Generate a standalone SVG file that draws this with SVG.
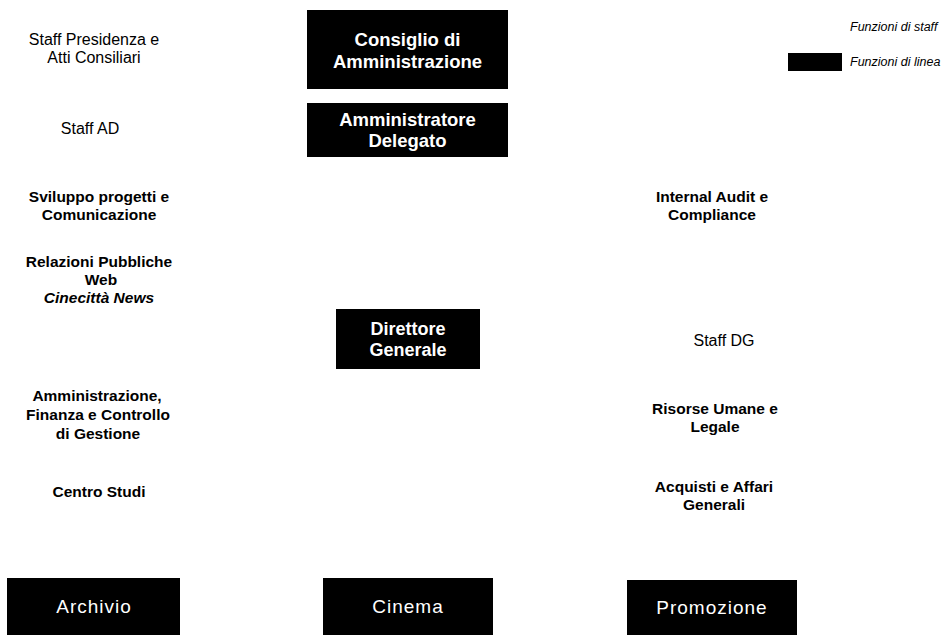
<svg xmlns="http://www.w3.org/2000/svg" width="947" height="635" viewBox="0 0 947 635">
<style>
.bg{fill:#ffffff}
.line{fill:#000000}
.wt{fill:#ffffff;font-family:"Liberation Sans",Arial,sans-serif;font-weight:bold;font-size:18.5px;text-anchor:middle}
.wr{fill:#ffffff;font-family:"Liberation Sans",Arial,sans-serif;font-size:19px;text-anchor:middle;letter-spacing:1px}
.st{fill:#000000;font-family:"Liberation Sans",Arial,sans-serif;font-size:16px;text-anchor:middle}
.sb{fill:#000000;font-family:"Liberation Sans",Arial,sans-serif;font-weight:bold;font-size:15.5px;text-anchor:middle}
.lg{fill:#000000;font-family:"Liberation Sans",Arial,sans-serif;font-style:italic;font-size:12.5px}
</style>
<rect class="bg" x="0" y="0" width="947" height="635"/>
<g id="connectors"></g>
<g id="legend">
<text class="lg" x="850" y="31">Funzioni di staff</text>
<rect class="line" x="788" y="53" width="54" height="18"/>
<text class="lg" x="850" y="66">Funzioni di linea</text>
</g>
<g id="consiglio">
<rect class="line" x="307" y="10" width="201" height="79"/>
<text class="wt" x="407.5" y="46">Consiglio di</text>
<text class="wt" x="407.5" y="68">Amministrazione</text>
</g>
<g id="ad">
<rect class="line" x="307" y="103" width="201" height="54"/>
<text class="wt" x="407.5" y="126">Amministratore</text>
<text class="wt" x="407.5" y="147">Delegato</text>
</g>
<g id="dg">
<rect class="line" x="336" y="309" width="144" height="60"/>
<text class="wt" x="408" y="335" style="font-size:18px">Direttore</text>
<text class="wt" x="408" y="356" style="font-size:18px">Generale</text>
</g>
<g id="archivio">
<rect class="line" x="7" y="578" width="173" height="57"/>
<text class="wr" x="94" y="613">Archivio</text>
</g>
<g id="cinema">
<rect class="line" x="323" y="578" width="170" height="57"/>
<text class="wr" x="408" y="613">Cinema</text>
</g>
<g id="promozione">
<rect class="line" x="627" y="580" width="170" height="55"/>
<text class="wr" x="712" y="614">Promozione</text>
</g>
<g id="staff-presidenza">
<text class="st" x="94" y="45">Staff Presidenza e</text>
<text class="st" x="94" y="63">Atti Consiliari</text>
</g>
<g id="staff-ad">
<text class="st" x="90" y="134">Staff AD</text>
</g>
<g id="sviluppo">
<text class="sb" x="99" y="202">Sviluppo progetti e</text>
<text class="sb" x="99" y="220">Comunicazione</text>
</g>
<g id="relazioni">
<text class="sb" x="99" y="267">Relazioni Pubbliche</text>
<text class="sb" x="101" y="285">Web</text>
<text class="sb" x="99" y="303" font-style="italic">Cinecittà News</text>
</g>
<g id="amministrazione">
<text class="sb" x="97" y="401">Amministrazione,</text>
<text class="sb" x="98" y="420">Finanza e Controllo</text>
<text class="sb" x="98" y="439">di Gestione</text>
</g>
<g id="centro-studi">
<text class="sb" x="99" y="497">Centro Studi</text>
</g>
<g id="internal-audit">
<text class="sb" x="712" y="202">Internal Audit e</text>
<text class="sb" x="712" y="220">Compliance</text>
</g>
<g id="staff-dg">
<text class="st" x="724" y="346">Staff DG</text>
</g>
<g id="risorse">
<text class="sb" x="715" y="414">Risorse Umane e</text>
<text class="sb" x="715" y="432">Legale</text>
</g>
<g id="acquisti">
<text class="sb" x="714" y="492">Acquisti e Affari</text>
<text class="sb" x="714" y="510">Generali</text>
</g>
</svg>
